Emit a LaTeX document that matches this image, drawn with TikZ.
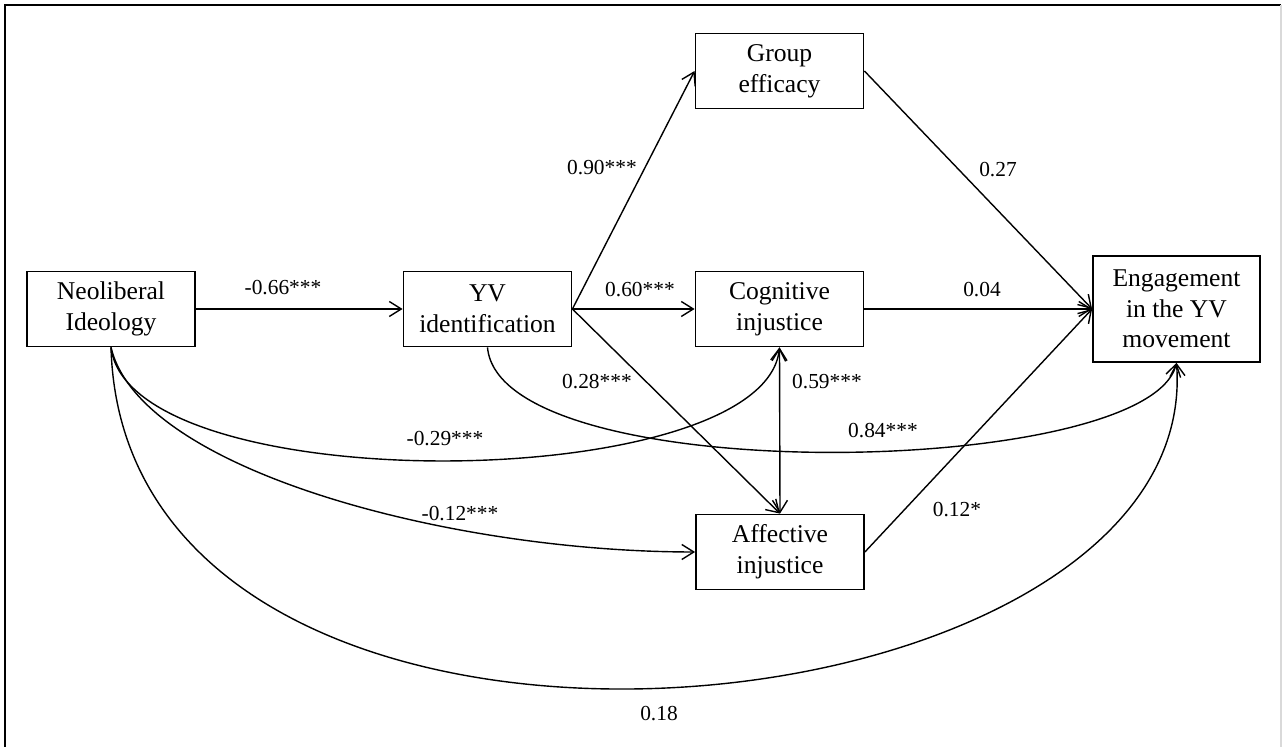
\documentclass[tikz,border=0pt]{standalone}
\usepackage{fontspec}
\setmainfont{Liberation Serif}
\usetikzlibrary{arrows.meta}

\begin{document}
\begin{tikzpicture}[x=0.5pt,y=-0.5pt,line width=0.7pt,
    >={Straight Barb[length=6pt,width=7.5pt]}]

        \useasboundingbox (0,0) rectangle (1282,747);
        \draw[line width=0.9pt] (5,747) -- (5,5) -- (1281,5);
        \draw[black!15] (1281,5) -- (1281,747);

        \begin{scope}[every node/.style={rectangle,draw,line width=0.9pt,align=center,
            inner sep=0pt,minimum width=84pt,minimum height=37.5pt,
            font=\fontsize{12.8}{15.3}\selectfont}]
          \node (neo) at (111,309)   {Neoliberal\\Ideology};
          \node (yv)  at (487.5,309) {YV\\identification};
          \node (ge)  at (779.5,71)  {Group\\efficacy};
          \node (cog) at (779.5,309) {Cognitive\\injustice};
          \node (aff) at (780,552)   {Affective\\injustice};
          \node[minimum width=83.5pt,minimum height=53pt] (eng) at (1176.5,309)
            {Engagement\\in the YV\\movement};
        \end{scope}

        \begin{scope}[every edge/.style={draw,->}]
          \path (neo)      edge (yv);
          \path (yv.east)  edge (ge.west);
          \path (yv.east)  edge (cog.west);
          \path (yv.east)  edge (aff.north);
          \path (cog.south) edge[<->] (aff.north);
          \path (ge.east)  edge (eng.west);
          \path (cog.east) edge (eng.west);
          \path (aff.east) edge (eng.west);
        \end{scope}

        % curved paths
        \draw[->] (yv.south)  .. controls (500,490) and (1148,479) .. (eng.south);
        \draw[->] (neo.south) .. controls (130,502) and (765,495) .. (cog.south);
        \draw[->] (neo.south) .. controls (140,470) and (450,552) .. (aff.west);
        \draw[->] (neo.south) .. controls (125,850) and (1205,748) .. (eng.south);

        \begin{scope}[every node/.style={inner sep=0pt,font=\fontsize{10.7}{13}\selectfont}]
          \node (l66)  at (283,288) {-0.66***};
          \node (l90)  at (602,168) {0.90***};
          \node (l60)  at (640,290) {0.60***};
          \node (l28)  at (597,382) {0.28***};
          \node (l59)  at (827,382) {0.59***};
          \node (l27)  at (998,170) {0.27};
          \node (l04)  at (982,290) {0.04};
          \node (l12s) at (957,510) {0.12*};
          \node (l84)  at (883,431) {0.84***};
          \node (l29)  at (445,439) {-0.29***};
          \node (l12)  at (460,514) {-0.12***};
          \node (l18)  at (659,714) {0.18};
        \end{scope}

      \end{tikzpicture}
\end{document}
